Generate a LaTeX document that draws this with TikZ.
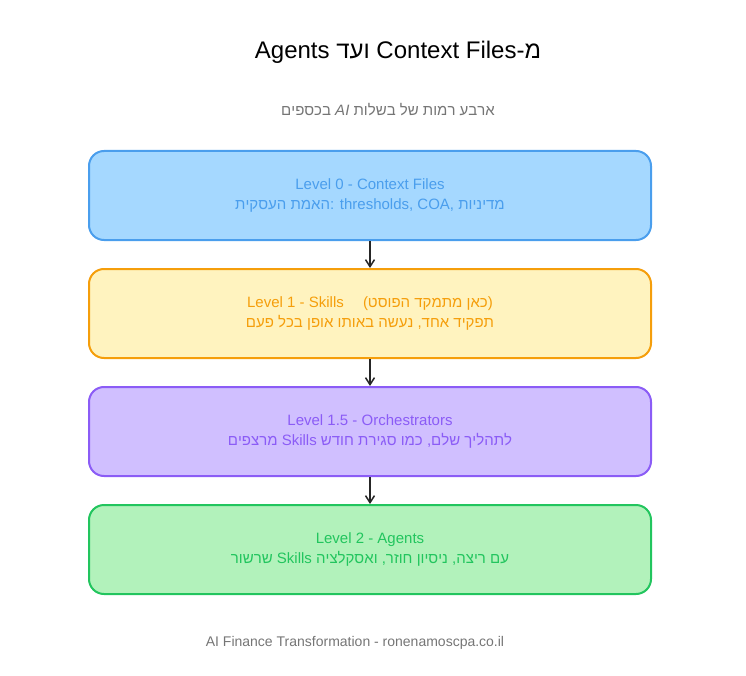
\documentclass[tikz,border=0pt]{standalone}
\usepackage{fontspec}
\setmainfont{Liberation Sans}
\usetikzlibrary{arrows.meta}
\TeXXeTstate=1
\newcommand{\heb}[1]{\beginR #1\endR}
\definecolor{bfill}{HTML}{A5D8FF}\definecolor{bline}{HTML}{4A9EED}
\definecolor{yfill}{HTML}{FFF3BF}\definecolor{yline}{HTML}{F59E0B}
\definecolor{pfill}{HTML}{D0BFFF}\definecolor{pline}{HTML}{8B5CF6}
\definecolor{gfill}{HTML}{B2F2BB}\definecolor{gline}{HTML}{22C55E}
\definecolor{grey}{HTML}{757575}
\begin{document}
\begin{tikzpicture}[x=1pt,y=-1pt,
  box/.style={rounded corners=15pt,line width=2pt,minimum width=562pt,minimum height=89pt,align=center,font=\fontsize{15}{20}\selectfont,inner sep=0pt},
  arr/.style={-{Straight Barb[length=7pt,width=9pt,line width=1.5pt]},line width=1.8pt,draw=black!85}]
\useasboundingbox (0,0) rectangle (746,676);
\node (title) at (398,52) {\fontsize{24}{28}\selectfont Agents \heb{ועד} Context Files-\heb{מ}};
\node[text=grey] (sub) at (388,110) {\fontsize{15}{18}\selectfont \heb{בכספים} \textit{AI} \heb{ארבע רמות של בשלות}};
\node[box,fill=bfill,draw=bline,text=bline] (b0) at (370,195.5) {Level 0 - Context Files\\\heb{האמת העסקית}: thresholds, COA, \heb{מדיניות}};
\node[box,fill=yfill,draw=yline,text=yline] (b1) at (370,313.5) {Level 1 - Skills\quad\ (\heb{כאן מתמקד הפוסט})\\\heb{תפקיד אחד, נעשה באותו אופן בכל פעם}};
\node[box,fill=pfill,draw=pline,text=pline] (b2) at (370,431.5) {Level 1.5 - Orchestrators\\\heb{מרצפים} Skills \heb{לתהליך שלם, כמו סגירת חודש}};
\node[box,fill=gfill,draw=gline,text=gline] (b3) at (370,549.5) {Level 2 - Agents\\\heb{שרשור} Skills \heb{עם ריצה, ניסיון חוזר, ואסקלציה}};
\draw[arr] (b0.south) -- (b1.north);
\draw[arr] (b1.south) -- (b2.north);
\draw[arr] (b2.south) -- (b3.north);
\node[text=grey] (foot) at (355,643) {\fontsize{14}{16}\selectfont AI Finance Transformation - ronenamoscpa.co.il};
\end{tikzpicture}
\end{document}
